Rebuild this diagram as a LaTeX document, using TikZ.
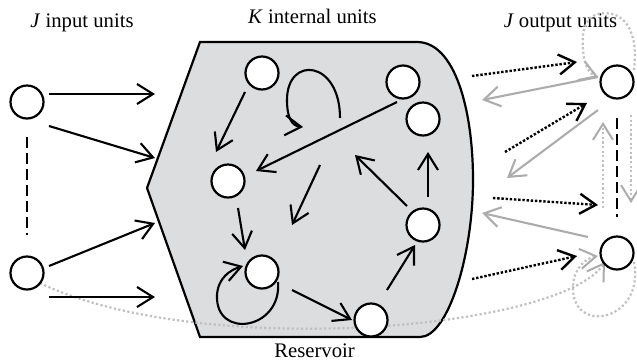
\documentclass[tikz,border=0pt]{standalone}
\usepackage{fontspec}
\setmainfont{Liberation Serif}
\usetikzlibrary{arrows.meta}
\definecolor{resfill}{RGB}{220,221,223}
\definecolor{gsolid}{RGB}{172,172,172}
\definecolor{gdot}{RGB}{192,192,192}
\begin{document}
\begin{tikzpicture}[x=1bp,y=-1bp,
  unit/.style={circle,draw=black,fill=white,line width=2.2bp,minimum size=33bp,inner sep=0pt},
  tipb/.style={-{Straight Barb[length=16bp,width=20bp]}},
  arr/.style={line width=2.1bp,tipb},
  dotarr/.style={line width=2.4bp,dash pattern=on 2.4bp off 1.8bp,tipb},
  grayarr/.style={line width=2.1bp,draw=gsolid,tipb},
  graydot/.style={line width=2.2bp,draw=gdot,dash pattern=on 2.2bp off 2.4bp,-{Straight Barb[length=16bp,width=20bp,line width=2bp,color=gsolid]}},
  dashline/.style={line width=2.8bp,dash pattern=on 11bp off 5bp},
  lbl/.style={anchor=base,inner sep=0pt,font=\fontsize{20.7bp}{25bp}\selectfont}
]
\useasboundingbox (0,0) rectangle (637,362);
% reservoir
\draw[line width=2.2bp,fill=resfill] (200,42) -- (417,42)
  .. controls (455,42) and (473,110) .. (473,180)
  .. controls (473,255) and (448,337) .. (420,337) -- (200,337) -- (147,188) -- cycle;
% labels
\node[lbl] (tin) at (82,27) {\textit{J} input units};
\node[lbl] (tint) at (312.5,23.5) {\textit{K} internal units};
\node[lbl] (tout) at (560.5,27) {\textit{J} output units};
\node[lbl] (tres) at (314.5,357) {Reservoir};
% coordinates
\coordinate (a1s) at (49,94);   \coordinate (a1e) at (155,94);
\coordinate (a2s) at (49,126);  \coordinate (a2e) at (155,158);
\coordinate (a3s) at (49,266);  \coordinate (a3e) at (155,223);
\coordinate (a4s) at (49,297);  \coordinate (a4e) at (155,297);
\coordinate (ADs) at (245,92);  \coordinate (ADe) at (216,152);
\coordinate (LAs) at (340,118); \coordinate (LAe) at (303,127);
\coordinate (BDs) at (397,102); \coordinate (BDe) at (256,171);
\coordinate (FRs) at (320,165); \coordinate (FRe) at (292,225);
\coordinate (FUs) at (407,206); \coordinate (FUe) at (355,155);
\coordinate (FCs) at (428,197); \coordinate (FCe) at (428,152);
\coordinate (DEs) at (238,208); \coordinate (DEe) at (245,250);
\coordinate (LEs) at (278,282); \coordinate (LEe) at (243,266);
\coordinate (EGs) at (292,290); \coordinate (EGe) at (352,320);
\coordinate (GFs) at (387,290); \coordinate (GFe) at (415,245);
\coordinate (d1s) at (472,76);  \coordinate (d1e) at (577,62);
\coordinate (d2s) at (505,152); \coordinate (d2e) at (587,103);
\coordinate (d3s) at (493,198); \coordinate (d3e) at (598,205);
\coordinate (d4s) at (472,279); \coordinate (d4e) at (577,256);
\coordinate (g1s) at (598,77);  \coordinate (g1e) at (482,100);
\coordinate (g2s) at (598,110); \coordinate (g2e) at (507,178);
\coordinate (g3s) at (588,237); \coordinate (g3e) at (482,213);
\coordinate (vus) at (603,208); \coordinate (vue) at (603,122);
\coordinate (vds) at (631,115); \coordinate (vde) at (631,203);
\coordinate (l1s) at (634,70);  \coordinate (l1e) at (598,77);
\coordinate (l2s) at (634,262); \coordinate (l2e) at (598,256);
\coordinate (lcs) at (40,283);  \coordinate (lce) at (605,262);
\coordinate (dia) at (27,137);  \coordinate (dib) at (27,235);
\coordinate (doa) at (617,118); \coordinate (dob) at (617,217);
% gray dotted connections
\draw[graydot] (lcs) .. controls (200,360) and (560,330) .. (lce);
\draw[graydot] (l1s) .. controls (640,20) and (615,8) .. (595,15)
  .. controls (580,22) and (582,45) .. (584,58) .. controls (586,68) and (590,74) .. (l1e);
\draw[graydot] (l2s) .. controls (645,320) and (575,335) .. (573,290)
  .. controls (572,270) and (585,258) .. (l2e);
\draw[graydot] (vus) -- (vue);
\draw[graydot] (vds) -- (vde);
% inputs
\node[unit] (i1) at (27,102) {};
\node[unit] (i2) at (27,273) {};
\draw[dashline] (dia) -- (dib);
\draw[arr] (a1s) -- (a1e);
\draw[arr] (a2s) -- (a2e);
\draw[arr] (a3s) -- (a3e);
\draw[arr] (a4s) -- (a4e);
% internal units
\node[unit] (A) at (262,73) {};
\node[unit] (B) at (403,82) {};
\node[unit] (C) at (423,119) {};
\node[unit] (D) at (228,181) {};
\node[unit] (E) at (262,272) {};
\node[unit] (F) at (423,225) {};
\node[unit] (G) at (371,320) {};
\draw[arr] (ADs) -- (ADe);
\draw[arr] (LAs) .. controls (340,60) and (287,55) .. (287,100) .. controls (287,118) and (292,126) .. (LAe);
\draw[arr] (BDs) -- (BDe);
\draw[arr] (FRs) -- (FRe);
\draw[arr] (FUs) -- (FUe);
\draw[arr] (FCs) -- (FCe);
\draw[arr] (DEs) -- (DEe);
\draw[arr] (LEs) .. controls (282,330) and (215,340) .. (217,295) .. controls (218,278) and (230,270) .. (LEe);
\draw[arr] (EGs) -- (EGe);
\draw[arr] (GFs) -- (GFe);
% outputs
\node[unit] (o1) at (617,82) {};
\node[unit] (o2) at (617,253) {};
\draw[dashline] (doa) -- (dob);
\draw[dotarr] (d1s) -- (d1e);
\draw[dotarr] (d2s) -- (d2e);
\draw[dotarr] (d3s) -- (d3e);
\draw[dotarr] (d4s) -- (d4e);
\draw[grayarr] (g1s) -- (g1e);
\draw[grayarr] (g2s) -- (g2e);
\draw[grayarr] (g3s) -- (g3e);
\end{tikzpicture}
\end{document}
